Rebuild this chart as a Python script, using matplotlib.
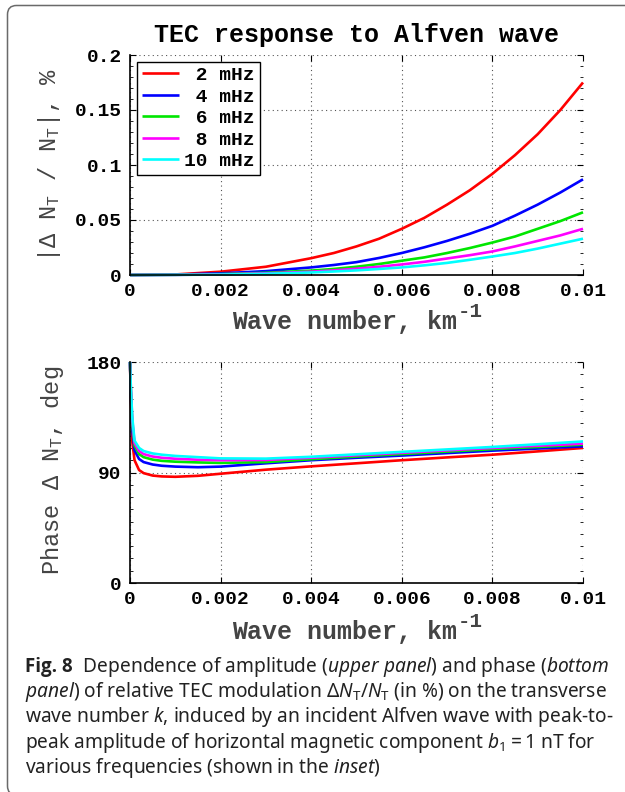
import matplotlib
matplotlib.use("Agg")
import matplotlib.pyplot as plt
import numpy as np
from matplotlib.patches import FancyBboxPatch
from matplotlib.transforms import IdentityTransform
from matplotlib.ticker import MultipleLocator

plt.rcParams['mathtext.fontset'] = 'custom'
plt.rcParams['mathtext.rm'] = 'Noto Sans'
plt.rcParams['mathtext.it'] = 'Noto Sans:italic'
plt.rcParams['mathtext.bf'] = 'Noto Sans:bold'
plt.rcParams['mathtext.tt'] = 'Liberation Mono'
plt.rcParams['mathtext.sf'] = 'Liberation Mono:bold'

# ---------------- data ----------------
labels = [' 2 mHz', ' 4 mHz', ' 6 mHz', ' 8 mHz', '10 mHz']
colors = ['#ff0000', '#0000ff', '#00e600', '#ff00ff', '#00ffff']

k_amp = [0, 0.001, 0.002, 0.003, 0.004, 0.0045, 0.005, 0.0055, 0.006, 0.0065,
         0.007, 0.0075, 0.008, 0.0085, 0.009, 0.0095, 0.010]
amp_2 = [0, 0.0005, 0.003, 0.0075, 0.0153, 0.020, 0.026, 0.033, 0.042, 0.052,
         0.064, 0.077, 0.092, 0.109, 0.128, 0.150, 0.175]
amp_4 = [0, 0.0003, 0.0015, 0.0035, 0.0069, 0.0091, 0.0117, 0.0155, 0.020, 0.0252,
         0.031, 0.0375, 0.0447, 0.054, 0.064, 0.075, 0.087]
amp_6 = [0, 0.0002, 0.0008, 0.002, 0.004, 0.0055, 0.0075, 0.010, 0.013, 0.016,
         0.020, 0.0245, 0.0295, 0.035, 0.042, 0.049, 0.057]
amp_8 = [0, 0.0001, 0.0006, 0.0015, 0.003, 0.0042, 0.0057, 0.0075, 0.0096, 0.012,
         0.015, 0.018, 0.0214, 0.026, 0.031, 0.036, 0.042]
amp_10 = [0, 0.0001, 0.0004, 0.0011, 0.0023, 0.0032, 0.0042, 0.0055, 0.0069, 0.0088,
          0.011, 0.0138, 0.0168, 0.020, 0.024, 0.0285, 0.033]

k_ph = [0, 0.00002, 0.00005, 0.0001, 0.0002, 0.0003, 0.0005, 0.0007, 0.001, 0.0015,
        0.002, 0.003, 0.004, 0.005, 0.006, 0.007, 0.008, 0.009, 0.010]
ph_2 = [180, 148, 115, 100, 92, 89.5, 87.5, 86.8, 86.5, 87.3,
        89, 92.3, 95, 97.5, 100, 102.3, 104.5, 107.2, 110]
ph_4 = [180, 152, 125, 108, 101, 98.5, 96.5, 95.5, 94.8, 94.3,
        94.8, 97.5, 100, 102, 103.8, 105.8, 107.8, 109.5, 111.3]
ph_6 = [180, 155, 130, 112, 105, 102.5, 100.5, 99.5, 98.8, 98.2,
        97.8, 98.5, 100.8, 103, 105, 107, 109, 110.8, 112.7]
ph_8 = [180, 157, 133, 114, 107.5, 105, 103, 102, 101.2, 100.4,
        100, 100.2, 102, 104, 106, 108, 110, 111.8, 113.5]
ph_10 = [180, 158, 135, 116, 110, 107.5, 105.5, 104.5, 103.5, 102.5,
         101.5, 101.3, 102.8, 104.8, 106.8, 108.8, 110.8, 113, 115.3]

amp_series = [amp_2, amp_4, amp_6, amp_8, amp_10]
ph_series = [ph_2, ph_4, ph_6, ph_8, ph_10]

x_ticks = [0, 0.002, 0.004, 0.006, 0.008, 0.01]
x_ticklabels = ['0', '0.002', '0.004', '0.006', '0.008', '0.01']
amp_ticks = [0, 0.05, 0.1, 0.15, 0.2]
amp_ticklabels = ['0', '0.05', '0.1', '0.15', '0.2']
ph_ticks = [0, 90, 180]
ph_ticklabels = ['0', '90', '180']

W, H = 625, 792
fig = plt.figure(figsize=(W / 100, H / 100), dpi=100)
fig.patch.set_facecolor('white')

mono = 'Liberation Mono'
lab_col = '#444444'


def px_ax(l, t, r, b):
    return fig.add_axes([l / W, 1 - b / H, (r - l) / W, (b - t) / H])


def style(ax, yticks, yticklabels, ylim, yminor):
    ax.set_xlim(0, 0.01)
    ax.set_ylim(*ylim)
    ax.set_xticks(x_ticks)
    ax.set_xticklabels(x_ticklabels)
    ax.set_yticks(yticks)
    ax.set_yticklabels(yticklabels)
    ax.yaxis.set_minor_locator(MultipleLocator(yminor))
    for s in ['top', 'right']:
        ax.spines[s].set_visible(False)
    for s in ['left', 'bottom']:
        ax.spines[s].set_linewidth(1.2)
        ax.spines[s].set_color('black')
    ax.grid(True, which='major', linestyle=(0, (1, 3)), color='#555555', linewidth=0.8)
    ax.tick_params(which='both', direction='in', top=True, right=True)
    ax.tick_params(which='major', length=4, width=0.8, pad=6)
    ax.tick_params(which='minor', length=2.5, width=0.6)
    for t in ax.get_xticklabels() + ax.get_yticklabels():
        t.set_fontfamily(mono)
        t.set_fontweight('bold')
        t.set_fontsize(14)
    ax.set_axisbelow(True)


def xlabel_at(y_base):
    # main text plus a larger raised exponent, as in the reference
    t = fig.text(345 / W, 1 - y_base / H, 'Wave number, km', family=mono,
                 weight='bold', size=18, ha='center', va='baseline', color=lab_col)
    bb = t.get_window_extent(renderer=fig.canvas.get_renderer())
    fig.text(bb.x1 / W, 1 - (y_base - 12) / H, '-1', family=mono, weight='bold',
             size=15, ha='left', va='baseline', color=lab_col)


# top panel
ax1 = px_ax(130, 55, 583, 275)
for vals, c, lab in zip(amp_series, colors, labels):
    ax1.plot(k_amp, vals, color=c, lw=1.9, label=lab, solid_capstyle='butt', clip_on=False)
style(ax1, amp_ticks, amp_ticklabels, (0, 0.2), 0.01)
leg = ax1.legend(loc='upper left', prop={'family': mono, 'weight': 'bold', 'size': 14},
                 frameon=True, fancybox=False, framealpha=1, edgecolor='black',
                 borderaxespad=0.35, borderpad=0.25, labelspacing=0.2,
                 handlelength=1.9, handletextpad=0.3)
leg.get_frame().set_linewidth(1.0)

fig.text(356.5 / W, 1 - 35 / H, 'TEC response to Alfven wave', family=mono,
         weight='bold', size=18, ha='center', va='center', color='black')
xlabel_at(329)
fig.text(50 / W, 1 - 165 / H, r'|Δ N$_{\mathtt{T}}$ / N$_{\mathtt{T}}$|, %', family=mono,
         size=17, ha='center', va='center', rotation=90, color=lab_col)

# bottom panel
ax2 = px_ax(130, 362, 583, 583)
for vals, c in zip(ph_series, colors):
    ax2.plot(k_ph, vals, color=c, lw=1.9, solid_capstyle='butt', clip_on=False)
style(ax2, ph_ticks, ph_ticklabels, (0, 180), 10)

xlabel_at(639)
fig.text(53 / W, 1 - 470 / H, r'Phase Δ N$_{\mathtt{T}}$, deg', family=mono,
         size=17, ha='center', va='center', rotation=90, color=lab_col)

# caption
cap_size = 13.8
cap_fam = ['Noto Sans', 'DejaVu Sans']
cap_col = '#222222'
cap_y = [672, 697, 722, 748, 773]
renderer = fig.canvas.get_renderer()
bold_txt = fig.text(25 / W, 1 - cap_y[0] / H, 'Fig. 8', family=['Open Sans', 'DejaVu Sans'],
                    weight='bold', size=cap_size - 0.3, ha='left', va='baseline',
                    color=cap_col)
bb = bold_txt.get_window_extent(renderer=renderer)
cap_first_rest = r'  Dependence of amplitude ($\mathit{upper\ panel}$) and phase ($\mathit{bottom}$'
fig.text((bb.x1) / W, 1 - cap_y[0] / H, cap_first_rest, family=cap_fam, size=cap_size,
         ha='left', va='baseline', color=cap_col)
cap_lines = [
    r'$\mathit{panel}$) of relative TEC modulation $\Delta N_{\mathrm{T}}/N_{\mathrm{T}}$ (in %) on the transverse',
    r'wave number $\mathit{k}$, induced by an incident Alfven wave with peak-to-',
    r'peak amplitude of horizontal magnetic component $b_1 = 1$ nT for',
    r'various frequencies (shown in the $\mathit{inset}$)',
]
for line, y in zip(cap_lines, cap_y[1:]):
    fig.text(25 / W, 1 - y / H, line, family=cap_fam, size=cap_size, ha='left',
             va='baseline', color=cap_col)

# rounded frame
frame = FancyBboxPatch((7.5, -3), 640, H - 5 + 3 - 0.5,
                       boxstyle='round,pad=0,rounding_size=9',
                       transform=IdentityTransform(), fill=False,
                       edgecolor='#6a6a6a', linewidth=1.1, clip_on=False)
fig.patches.append(frame)

fig.savefig('out.png', dpi=100)
